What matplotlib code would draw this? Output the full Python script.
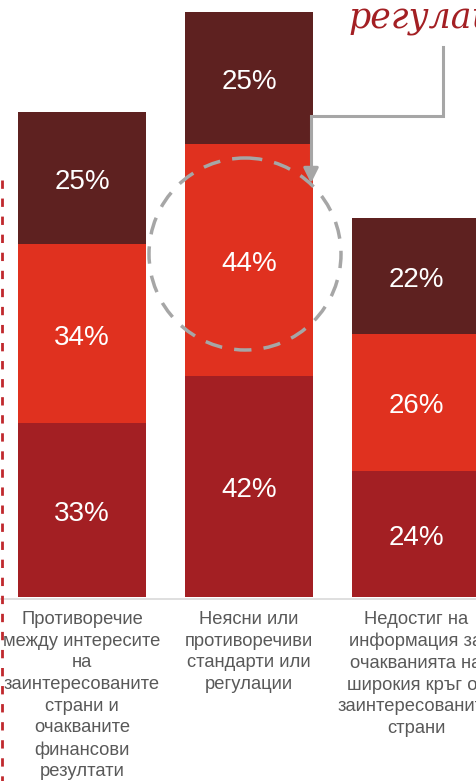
import numpy as np
import matplotlib
matplotlib.use("Agg")
import matplotlib.pyplot as plt
from matplotlib.patches import Ellipse
from matplotlib.lines import Line2D

plt.rcParams['font.family'] = ['Liberation Sans', 'DejaVu Sans']

# data
categories = ['Противоречие\nмежду интересите\nна\nзаинтересованите\nстрани и\nочакваните\nфинансови\nрезултати',
              'Неясни или\nпротиворечиви\nстандарти или\nрегулации',
              'Недостиг на\nинформация за\nочакванията на\nширокия кръг от\nзаинтересованите\nстрани']
bottom_vals = [33, 42, 24]
middle_vals = [34, 44, 26]
top_vals = [25, 25, 22]
colors = ['#A31F23', '#E0311F', '#5E2120']

W, H = 477, 781
fig = plt.figure(figsize=(W / 100, H / 100), dpi=100)

# bar axes, whole figure, scales chosen so bars land where they do on the slide
ax = fig.add_axes([0, 0, 1, 1])
x = np.arange(len(categories))
px_per_unit = 5.27
base_px = 597
ax.set_xlim(-82 / 167, (W - 82) / 167)
ax.set_ylim(-(H - base_px) / px_per_unit, base_px / px_per_unit)
ax.axis('off')

ax.axhline(-0.3, color='#D9D9D9', lw=1.2, zorder=0)

bw = 128 / 167
b1 = ax.bar(x, bottom_vals, bw, color=colors[0], zorder=2)
b2 = ax.bar(x, middle_vals, bw, bottom=bottom_vals, color=colors[1], zorder=2)
b3 = ax.bar(x, top_vals, bw, bottom=np.add(bottom_vals, middle_vals), color=colors[2], zorder=2)
for bars, vals in zip([b1, b2, b3], [bottom_vals, middle_vals, top_vals]):
    for r, v in zip(bars, vals):
        ax.annotate(f'{v}%', (r.get_x() + r.get_width() / 2, r.get_y() + r.get_height() / 2),
                    xytext=(0, -3), textcoords='offset points', ha='center', va='center',
                    color='white', fontsize=20, zorder=3)

for i, c in enumerate(categories):
    ax.text(i, -(611 - base_px) / px_per_unit, c, ha='center', va='top',
            fontsize=13.2, color='#595959', linespacing=1.36)

# overlay in pixel coordinates for the slide decorations
ov = fig.add_axes([0, 0, 1, 1])
ov.set_xlim(0, W)
ov.set_ylim(H, 0)
ov.axis('off')
ov.patch.set_alpha(0)

ov.text(349, 28, 'регулации', fontsize=25, color='#A31F23',
        family='DejaVu Serif', style='italic', va='baseline', ha='left')

ov.add_line(Line2D([2, 2], [180, H], color='#C0282D', lw=2, linestyle=(0, (3, 3.5))))

ov.add_patch(Ellipse((245, 254), 192, 192, fill=False, edgecolor='#A6A6A6',
                     lw=2.5, linestyle=(0, (5, 3.5)), zorder=5))

ov.plot([443, 443, 311, 311], [47, 116, 116, 172], color='#A6A6A6', lw=2.2,
        solid_joinstyle='miter', zorder=6)
ov.annotate('', xy=(311, 186), xytext=(311, 170),
            arrowprops=dict(arrowstyle='-|>,head_length=0.9,head_width=0.45',
                            color='#A6A6A6', lw=2.2), zorder=6)

fig.savefig('out.png', dpi=100)
